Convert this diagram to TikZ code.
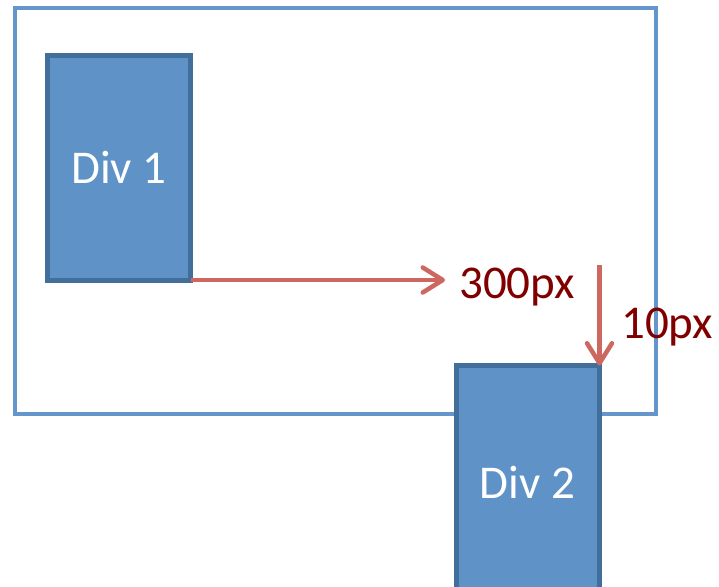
\documentclass[tikz,border=0pt]{standalone}
\usepackage{fontspec}
\setmainfont{Carlito}
\usetikzlibrary{arrows.meta, positioning}

\definecolor{framecol}{RGB}{100,150,203}
\definecolor{divfill}{RGB}{95,147,200}
\definecolor{divline}{RGB}{66,110,156}
\definecolor{arrowcol}{RGB}{205,104,96}
\definecolor{labelcol}{RGB}{128,0,0}

\tikzset{
  divbox/.style={draw=divline, fill=divfill, line width=5pt, text=white,
    minimum width=143pt, inner sep=0pt, outer sep=0pt,
    font=\fontsize{47}{50}\selectfont},
  offset/.style={draw=arrowcol, line width=4.5pt,
    -{Straight Barb[length=20pt,width=25pt,round]}},
  offsetlabel/.style={text=labelcol, inner sep=0pt, anchor=base west,
    font=\fontsize{47}{50}\selectfont}
}

\begin{document}
\begin{tikzpicture}[x=1pt, y=-1pt]

		\useasboundingbox (0,0) rectangle (719,586);
		\clip (0,0) rectangle (719,586);

		% Container
		\draw[framecol, line width=4pt] (15,8) rectangle (656,414);

		% Boxes
		\node[divbox, minimum height=224.5pt] (div1) at (119,167.75) {Div 1};
		\node[divbox, minimum height=233pt] (div2) at (527.5,482) {Div 2};

		% Offsets
		\coordinate (right end) at (445,280);
		\coordinate (down start) at (599.5,265);
		\draw[offset] (div1.south east) -- (div1.south east -| right end);
		\draw[offset] (down start) -- (down start |- div2.north east);

		\node[offsetlabel] (dx) at (459,298) {300px};
		\node[offsetlabel] (dy) at (621,338) {10px};

	\end{tikzpicture}
\end{document}
